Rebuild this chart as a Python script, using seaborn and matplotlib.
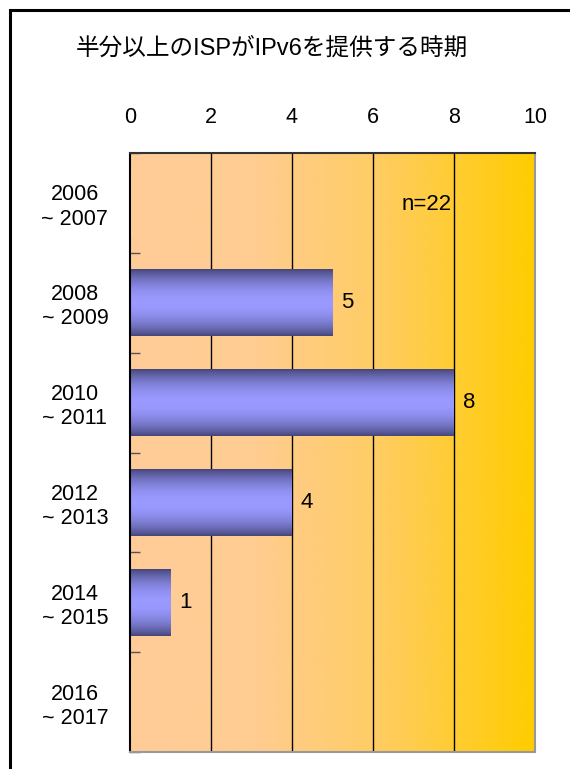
import numpy as np
import matplotlib
matplotlib.use("Agg")
import matplotlib.pyplot as plt
import seaborn as sns
from matplotlib.colors import LinearSegmentedColormap
from matplotlib.patches import Rectangle

# data
periods = ["2006\n~ 2007", "2008\n~ 2009", "2010\n~ 2011",
           "2012\n~ 2013", "2014\n~ 2015", "2016\n~ 2017"]
counts = [0, 5, 8, 4, 1, 0]
x_ticks = [0, 2, 4, 6, 8, 10]
title = "半分以上のISPがIPv6を提供する時期"
note = "n=22"

sns.set_theme(style="white")
plt.rcParams["font.family"] = ["Liberation Sans", "Noto Sans CJK JP", "DejaVu Sans"]

fig = plt.figure(figsize=(5.7, 7.69), dpi=100)
ax = fig.add_axes([130 / 570, 17 / 769, 405 / 570, 599 / 769])

# frame around the whole chart (right and bottom edges run off the image)
fig.patches.append(Rectangle((10 / 570, -0.1), 1.2, 1 - 10 / 769 + 0.1,
                             transform=fig.transFigure, fill=False,
                             edgecolor="black", linewidth=2.2, zorder=0))

sns.barplot(x=counts, y=periods, orient="h", ax=ax, width=0.67,
            color="#9999ff", saturation=1, zorder=3)

# background gradient
bg_cmap = LinearSegmentedColormap.from_list(
    "bg", [(0, "#ffcc99"), (0.3, "#ffcc92"), (0.6, "#ffcc66"), (1, "#ffcc00")])
ax.imshow(np.linspace(0, 1, 256).reshape(1, -1), cmap=bg_cmap, aspect="auto",
          extent=[0, 10, 5.5, -0.5], zorder=0)

# shaded bars
t = np.linspace(0, 1, 200)
shade = np.sin(np.pi * t) ** 0.8
bar_cmap = LinearSegmentedColormap.from_list("bar", ["#444478", "#9999ff"])
for p in ax.patches:
    w = p.get_width()
    if w <= 0:
        continue
    y0 = p.get_y()
    h = p.get_height()
    ax.imshow(shade.reshape(-1, 1), cmap=bar_cmap, aspect="auto",
              extent=[0, w, y0 + h, y0], zorder=4, vmin=0, vmax=1)
    p.set_facecolor("none")
    p.set_edgecolor("none")

for i, v in enumerate(counts):
    if v > 0:
        ax.text(v + 0.22, i, str(v), va="center", ha="left", fontsize=16,
                color="black", zorder=5)

ax.text(7.95, 0.02, note, ha="right", va="center", fontsize=16,
        color="black", zorder=5)

ax.set_xlim(0, 10)
ax.set_ylim(5.5, -0.5)
ax.set_xticks(x_ticks)
ax.xaxis.tick_top()
ax.tick_params(axis="x", length=0, pad=18, labelsize=15.5, labelcolor="black")
ax.tick_params(axis="y", which="major", length=0, pad=0, labelsize=15.5,
               labelcolor="black")
for lbl in ax.get_yticklabels():
    lbl.set_horizontalalignment("center")
    lbl.set_x(-0.136)
    lbl.set_y(lbl.get_position()[1])
ax.set_yticks(np.arange(-0.5, 6, 1), minor=True)
ax.tick_params(axis="y", which="minor", direction="in", length=7,
               width=1, color="#555555", left=True)
ax.set_xlabel("")
ax.set_ylabel("")

for x in x_ticks[1:-1]:
    ax.axvline(x, color="black", linewidth=1, zorder=2)

ax.spines["left"].set_color("black")
ax.spines["top"].set_color("#333333")
ax.spines["right"].set_color("#999999")
ax.spines["bottom"].set_color("#999999")
for s in ax.spines.values():
    s.set_linewidth(1.5)
    s.set_zorder(6)

fig.text(272 / 570, 1 - 48 / 769, title, ha="center", va="center",
         fontsize=17, color="black")

fig.savefig("out.png", dpi=100)
plt.close(fig)
